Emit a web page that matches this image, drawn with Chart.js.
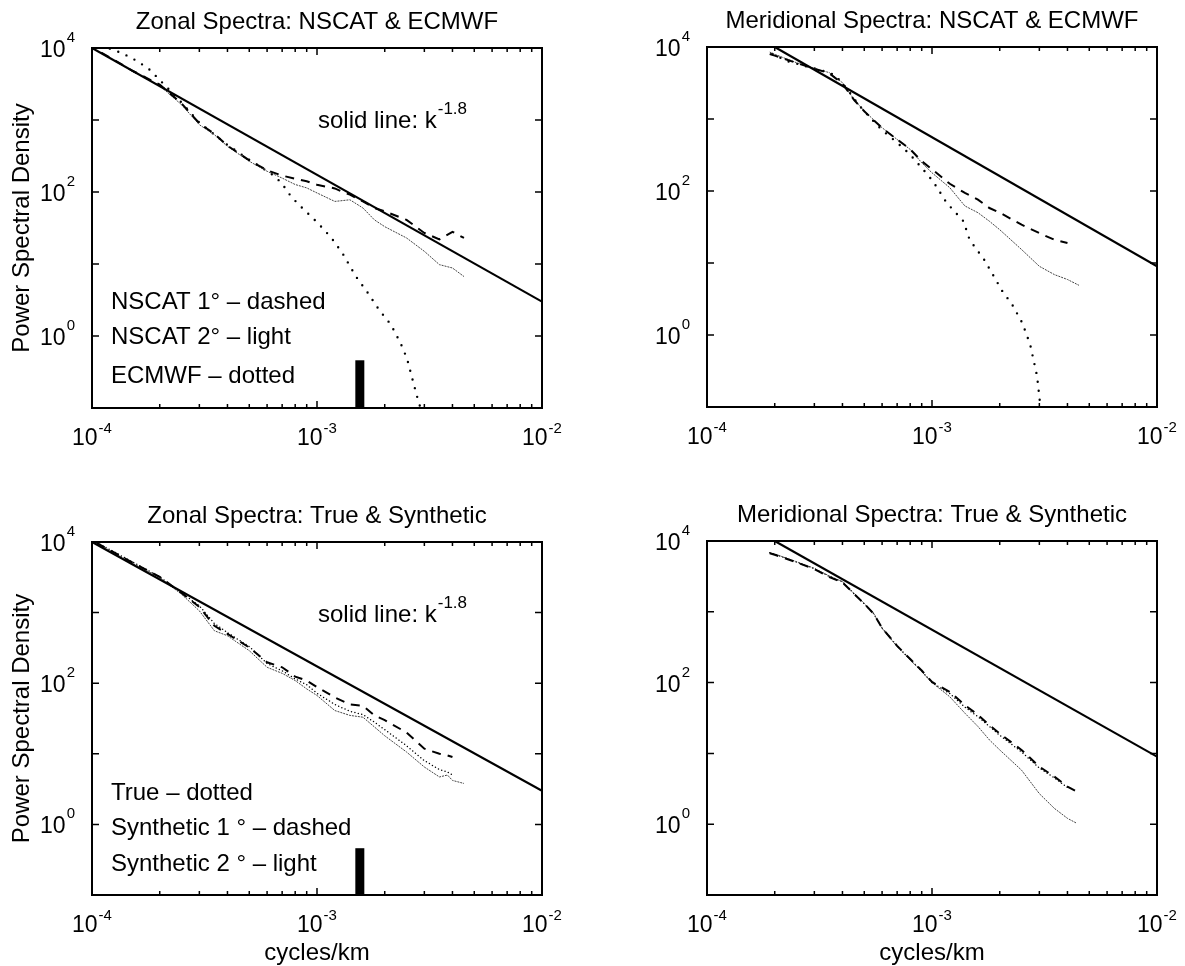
<!DOCTYPE html>
<html>
<head>
<meta charset="utf-8">
<script src="https://cdn.jsdelivr.net/npm/chart.js@4.4.0/dist/chart.umd.min.js"></script>
<style>
  body { margin: 0; background: #fff; }
  canvas { position: absolute; }
</style>
</head>
<body>
<canvas id="zonalNscat" width="592" height="483" style="left:0;top:0"></canvas>
<canvas id="meridNscat" width="593" height="483" style="left:592px;top:0"></canvas>
<canvas id="zonalTrue" width="592" height="483" style="left:0;top:483px"></canvas>
<canvas id="meridTrue" width="593" height="483" style="left:592px;top:483px"></canvas>
<script>
// tick labels (powers of ten)
const xTickValues = [1e-4, 1e-3, 1e-2];
const xTickExps = ["-4", "-3", "-2"];
const yTickValues = [1, 1e2, 1e4];
const yTickExps = ["0", "2", "4"];

// k^-1.8 reference lines
const slopeZonalK = [1e-4, 1e-2];
const slopeZonalP = [1e4, 3.0];
const slopeMerK = [2e-4, 1e-2];
const slopeMerP = [1e4, 9.0];

// black bar
const barK = [1.55e-3, 1.55e-3];
const barP = [0.1, 0.46];

// --- Zonal: NSCAT & ECMWF
const zonalK = [1.1e-4, 1.2e-4, 1.5e-4, 2e-4, 2.5e-4, 3e-4, 3.5e-4, 4e-4, 5e-4, 6e-4, 7e-4, 8e-4, 9e-4,
  1e-3, 1.2e-3, 1.3e-3, 1.4e-3, 1.6e-3, 1.8e-3, 2e-3, 2.5e-3, 3e-3, 3.5e-3, 4e-3, 4.5e-3];
const nscat1Zonal = [8600, 7400, 4900, 3100, 1700, 900, 640, 440, 275, 200, 169, 153, 141,
  126, 112, 100, 92, 74, 60, 54, 41, 27, 22, 28, 23];
const nscat2Zonal = [8500, 7300, 4800, 3000, 1630, 860, 625, 430, 267, 194, 156, 127, 114,
  97, 74, 76, 78, 60, 41, 33, 23, 15, 9.8, 8.8, 6.7];
const ecmwfZonalK = [1.2e-4, 1.36e-4, 1.6e-4, 1.81e-4, 2e-4, 2.5e-4, 3e-4, 4e-4, 5e-4, 6e-4, 6.5e-4, 7e-4,
  7.7e-4, 8.6e-4, 1.01e-3, 1.16e-3, 1.3e-3, 1.49e-3, 1.68e-3, 1.89e-3, 2.13e-3, 2.35e-3, 2.51e-3, 2.64e-3, 2.81e-3, 2.95e-3];
const ecmwfZonal = [9800, 8500, 6500, 4950, 3600, 1750, 920, 450, 280, 195, 165, 130,
  85, 60, 37, 23, 14, 6.7, 4, 2.3, 1.44, 0.8, 0.49, 0.27, 0.13, 0.08];

// --- Meridional: NSCAT & ECMWF
const merK = [1.9e-4, 2e-4, 2.5e-4, 3e-4, 3.5e-4, 4e-4, 4.5e-4, 5e-4, 6e-4, 7e-4, 8e-4, 9e-4,
  1e-3, 1.2e-3, 1.4e-3, 1.6e-3, 1.8e-3, 2e-3, 2.5e-3, 3e-3, 3.5e-3, 4e-3, 4.5e-3];
const nscat1Mer = [8000, 7600, 6000, 5000, 4300, 3100, 1850, 1280, 750, 520, 380, 260,
  200, 126, 94, 76, 58, 50, 34, 26, 21, 19, null];
const nscat2Mer = [8500, 7900, 6050, 5050, 4400, 3190, 1870, 1290, 757, 520, 378, 247,
  179, 111, 62, 50, 38, 29, 15.4, 9, 6.9, 5.9, 4.9];
const ecmwfMerK = [1.95e-4, 2.3e-4, 2.7e-4, 3.2e-4, 3.7e-4, 4.2e-4, 4.7e-4, 5.3e-4, 6e-4, 7e-4, 8e-4, 9e-4,
  1.01e-3, 1.16e-3, 1.38e-3, 1.47e-3, 1.71e-3, 2.08e-3, 2.25e-3, 2.52e-3, 2.73e-3, 2.93e-3, 3.01e-3, 3.05e-3];
const ecmwfMer = [8000, 6300, 5500, 4800, 4100, 2600, 1600, 1050, 700, 470, 320, 210,
  137, 69, 38, 21, 11, 3.8, 2.8, 1.47, 0.74, 0.27, 0.126, 0.09];

// --- Zonal: True & Synthetic
const zonalTrueK = [1.05e-4, 1.5e-4, 2e-4, 2.5e-4, 3e-4, 3.5e-4, 4e-4, 5e-4, 6e-4, 7e-4, 8e-4, 9e-4,
  1e-3, 1.2e-3, 1.4e-3, 1.6e-3, 1.8e-3, 2e-3, 2.5e-3, 3e-3, 3.5e-3, 3.8e-3, 4e-3, 4.5e-3];
const trueZonal = [9800, 5300, 3200, 1900, 1250, 700, 520, 330, 190, 150, 115, 95,
  72, 50, 40, 36, 28, 22, 13, 8, 6, 5.5, 5, null];
const synth1Zonal = [9700, 5200, 3200, 1900, 1200, 650, 500, 320, 198, 168, 124, 109,
  88, 63, 50, 48, 35, 30, 20, 11.8, 10, 9.5, 9, null];
const synth2Zonal = [9600, 5100, 3130, 1820, 1060, 553, 470, 289, 168, 138, 109, 83,
  67, 41, 35, 33, 24, 18, 10.6, 6.5, 4.7, 5.0, 4.2, 3.8];

// --- Meridional: True & Synthetic
const merTrueK = [1.9e-4, 2e-4, 2.5e-4, 3e-4, 3.5e-4, 4e-4, 4.5e-4, 5e-4, 5.5e-4, 6e-4, 7e-4, 8e-4, 9e-4,
  1e-3, 1.2e-3, 1.4e-3, 1.6e-3, 1.8e-3, 2e-3, 2.5e-3, 3e-3, 3.5e-3, 4e-3, 4.4e-3];
const trueMer = [6800, 6500, 5050, 4050, 3150, 2650, 1800, 1300, 950, 590, 330, 212, 145,
  100, 70, 45, 33, 24, 18, 10.5, 6.2, 4.5, 3.3, null];
const synth1Mer = [6700, 6400, 5000, 4000, 3100, 2600, 1800, 1300, 940, 590, 330, 215, 148,
  102, 74, 48, 35, 25, 19, 11.2, 6.5, 4.7, 3.4, 2.9];
const synth2Mer = [6840, 6550, 5100, 4110, 3200, 2670, 1820, 1320, 950, 583, 322, 209, 143,
  100, 63, 37, 24, 15.5, 11.2, 5.8, 2.7, 1.67, 1.21, 1.03];

const FONT = '"Liberation Sans", Arial, Helvetica, sans-serif';

function pts(ks, ps) {
  return ks.map((k, i) => ({ x: k, y: ps[i] })).filter((p) => p.y != null);
}

const styles = {
  solid: { borderColor: "#000", borderWidth: 2.2 },
  dashed: { borderColor: "#000", borderWidth: 2, borderDash: [9, 7] },
  light: { borderColor: "#444", borderWidth: 1, borderDash: [2, 1] },
  dotted: { borderColor: "#000", borderWidth: 2.4, borderDash: [0, 9], borderCapStyle: "round" },
  fine: { borderColor: "#000", borderWidth: 1.5, borderDash: [0, 3.5], borderCapStyle: "round" },
  bar: { borderColor: "#000", borderWidth: 9, borderCapStyle: "butt" },
};

function series(ks, ps, style) {
  return Object.assign({ data: pts(ks, ps), showLine: true, pointRadius: 0, tension: 0, fill: false }, styles[style]);
}

function drawPow(ctx, exp, x, y, align, off) {
  ctx.font = "23px " + FONT;
  const wb = ctx.measureText("10").width;
  ctx.font = "15px " + FONT;
  const we = ctx.measureText(exp).width;
  const left = align === "right" ? x - wb - we - 1 : x - (wb + we + 1) / 2;
  ctx.font = "23px " + FONT;
  ctx.fillText("10", left, y);
  ctx.font = "15px " + FONT;
  ctx.fillText(exp, left + wb + 1, y - off);
}

// box, inward ticks and all the text of one panel
const framePlugin = {
  id: "frame",
  afterDraw(chart, args, opts) {
    const { ctx, chartArea: a, scales } = chart;
    const x = scales.x, y = scales.y;
    ctx.save();
    ctx.fillStyle = "#000";
    ctx.strokeStyle = "#000";
    ctx.lineWidth = 1.5;
    ctx.beginPath();
    for (let d = 1e-4; d < 1e-2 * 1.01; d *= 10) {
      for (let m = 1; m < 10; m++) {
        const v = d * m;
        if (v > 1e-2 * 1.001) break;
        const px = x.getPixelForValue(v);
        const len = m === 1 ? 7 : 4;
        ctx.moveTo(px, a.bottom); ctx.lineTo(px, a.bottom - len);
        ctx.moveTo(px, a.top); ctx.lineTo(px, a.top + len);
      }
    }
    for (let d = 0.1; d < 1e4 * 1.01; d *= 10) {
      const py = y.getPixelForValue(d);
      ctx.moveTo(a.left, py); ctx.lineTo(a.left + 7, py);
      ctx.moveTo(a.right, py); ctx.lineTo(a.right - 7, py);
    }
    ctx.stroke();
    ctx.lineWidth = 2;
    ctx.strokeRect(a.left, a.top, a.right - a.left, a.bottom - a.top);

    ctx.textAlign = "left";
    ctx.textBaseline = "alphabetic";
    xTickValues.forEach((v, i) => drawPow(ctx, xTickExps[i], x.getPixelForValue(v), a.bottom + 37, "center", 12));
    yTickValues.forEach((v, i) => drawPow(ctx, yTickExps[i], a.left - 17, y.getPixelForValue(v) + 9, "right", 15));

    const cx = (a.left + a.right) / 2;
    ctx.font = "24px " + FONT;
    ctx.textAlign = "center";
    ctx.fillText(opts.title, cx, a.top - 19);
    if (opts.xlabel) ctx.fillText(opts.xlabel, cx, a.bottom + 65);
    if (opts.ylabel) {
      ctx.save();
      ctx.translate(29, (a.top + a.bottom) / 2);
      ctx.rotate(-Math.PI / 2);
      ctx.fillText(opts.ylabel, 0, 0);
      ctx.restore();
    }
    ctx.textAlign = "left";
    (opts.notes || []).forEach((n) => {
      ctx.font = "24px " + FONT;
      ctx.fillText(n.text, n.x, n.y);
      if (n.sup) {
        const w = ctx.measureText(n.text).width;
        ctx.font = "17px " + FONT;
        ctx.fillText(n.sup, n.x + w + 1, n.y - 14);
      }
    });
    ctx.restore();
  },
};

function makeChart(id, pad, datasets, frame) {
  new Chart(document.getElementById(id), {
    type: "scatter",
    data: { datasets: datasets },
    plugins: [framePlugin],
    options: {
      responsive: false,
      animation: false,
      devicePixelRatio: 1,
      layout: { padding: pad },
      plugins: { legend: { display: false }, tooltip: { enabled: false }, frame: frame },
      scales: {
        x: {
          type: "logarithmic", min: 1e-4, max: 1e-2,
          ticks: { display: false }, grid: { display: false }, border: { display: false },
          afterFit: (s) => { s.height = 0; },
        },
        y: {
          type: "logarithmic", min: 0.1, max: 1e4,
          ticks: { display: false }, grid: { display: false }, border: { display: false },
          afterFit: (s) => { s.width = 0; },
        },
      },
    },
  });
}

makeChart("zonalNscat", { left: 92, right: 50, top: 48, bottom: 75 }, [
  series(slopeZonalK, slopeZonalP, "solid"),
  series(zonalK, nscat1Zonal, "dashed"),
  series(zonalK, nscat2Zonal, "light"),
  series(ecmwfZonalK, ecmwfZonal, "dotted"),
  series(barK, barP, "bar"),
], {
  title: "Zonal Spectra: NSCAT & ECMWF",
  ylabel: "Power Spectral Density",
  notes: [
    { text: "solid line: k", sup: "-1.8", x: 318, y: 128 },
    { text: "NSCAT 1° – dashed", x: 111, y: 309 },
    { text: "NSCAT 2° – light", x: 111, y: 344 },
    { text: "ECMWF – dotted", x: 111, y: 383 },
  ],
});

makeChart("meridNscat", { left: 115, right: 28, top: 47, bottom: 76 }, [
  series(slopeMerK, slopeMerP, "solid"),
  series(merK, nscat1Mer, "dashed"),
  series(merK, nscat2Mer, "light"),
  series(ecmwfMerK, ecmwfMer, "dotted"),
], {
  title: "Meridional Spectra: NSCAT & ECMWF",
});

makeChart("zonalTrue", { left: 92, right: 50, top: 59, bottom: 71 }, [
  series(slopeZonalK, slopeZonalP, "solid"),
  series(zonalTrueK, synth1Zonal, "dashed"),
  series(zonalTrueK, synth2Zonal, "light"),
  series(zonalTrueK, trueZonal, "fine"),
  series(barK, barP, "bar"),
], {
  title: "Zonal Spectra: True & Synthetic",
  ylabel: "Power Spectral Density",
  xlabel: "cycles/km",
  notes: [
    { text: "solid line: k", sup: "-1.8", x: 318, y: 139 },
    { text: "True – dotted", x: 111, y: 317 },
    { text: "Synthetic 1 ° – dashed", x: 111, y: 352 },
    { text: "Synthetic 2 ° – light", x: 111, y: 388 },
  ],
});

makeChart("meridTrue", { left: 115, right: 28, top: 58, bottom: 71 }, [
  series(slopeMerK, slopeMerP, "solid"),
  series(merTrueK, synth1Mer, "dashed"),
  series(merTrueK, synth2Mer, "light"),
  series(merTrueK, trueMer, "fine"),
], {
  title: "Meridional Spectra: True & Synthetic",
  xlabel: "cycles/km",
});
</script>
</body>
</html>
